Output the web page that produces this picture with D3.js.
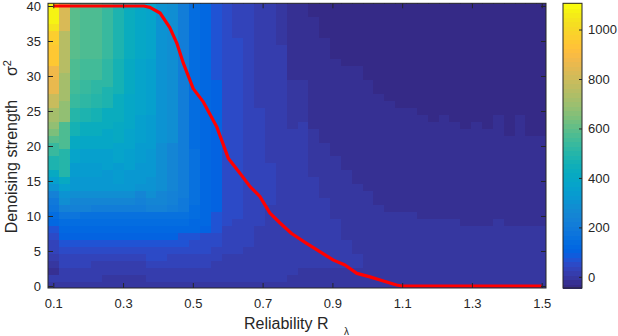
<!DOCTYPE html>
<html>
<head>
<meta charset="utf-8">
<script src="https://cdn.jsdelivr.net/npm/d3@7/dist/d3.min.js"></script>
<style>
  body { margin: 0; background: #fff; }
  svg { display: block; font-family: "Liberation Sans", Arial, sans-serif; }
</style>
</head>
<body>
<svg id="chart" width="618" height="336"></svg>
<script>
// heatmap column centres (reliability R_lambda)
const reliability = [0.1, 0.1311, 0.1622, 0.1933, 0.2244, 0.2556, 0.2867, 0.3178, 0.3489, 0.38,
  0.4111, 0.4422, 0.4733, 0.5044, 0.5356, 0.5667, 0.5978, 0.6289, 0.66, 0.6911,
  0.7222, 0.7533, 0.7844, 0.8156, 0.8467, 0.8778, 0.9089, 0.94, 0.9711, 1.0022,
  1.0333, 1.0644, 1.0956, 1.1267, 1.1578, 1.1889, 1.22, 1.2511, 1.2822, 1.3133,
  1.3444, 1.3756, 1.4067, 1.4378, 1.4689, 1.5];
// heatmap row centres (sigma^2), top to bottom
const sigmaRows = [40, 39, 38, 37, 36, 35, 34, 33, 32, 31, 30, 29, 28, 27, 26, 25, 24, 23, 22, 21,
  20, 19, 18, 17, 16, 15, 14, 13, 12, 11, 10, 9, 8, 7, 6, 5, 4, 3, 2, 1, 0];

// cell values, one run-length string per column (top to bottom)
// token = level char + repeat count, level char k means value 20*k - 40
const levelChars = "0123456789abcdefghijklmnopqrstuvwxyzABCDEFGHIJKLMNOPQRSTUV";
const columnRuns = [
  "U3 S P2 O3 K2 J2 G2 C2 A y w t2 q2 n k h e c b 9 8 6 5 42 3 2 1 3 2",
  "H4 E6 C4 A3 v4 r4 n k h g e b 9 8 7 6 5 42 32 2",
  "w8 v3 u2 t2 r2 p2 n2 l2 j2 i2 g f e b 9 8 7 6 5 42 32 2",
  "v8 u3 t2 s2 q2 o2 m2 k2 j2 i2 g f e a 9 8 7 6 5 42 32 2",
  "v8 u3 s2 r2 p2 o2 m2 k2 j2 i2 g f d a 9 8 7 6 5 4 33 2",
  "t8 s4 q3 o3 m3 k3 i3 g f d a 9 8 7 6 5 4 32 22",
  "q8 p5 o4 n3 l3 j3 i g f d a 9 8 7 6 5 4 32 22",
  "o8 n5 m5 l3 k3 i3 g f d a 9 8 7 6 5 4 32 22",
  "m8 l8 k4 j3 i3 h f e d a 9 8 7 6 5 4 32 22",
  "l8 k8 j5 i4 h2 g f e a 9 8 7 6 52 4 32 2",
  "h20 g7 f2 e a 9 8 7 6 52 4 32 2",
  "g20 f7 e2 d a 9 8 7 6 5 42 32 2",
  "d28 c2 a 9 8 62 5 42 32 2",
  "921 a8 92 82 6 52 42 32 2",
  "832 7 53 42 32 2",
  "611 719 63 52 42 33 2",
  "532 44 34 2",
  "45 526 45 34 2",
  "435 35 2",
  "315 417 38 2",
  "323 46 311 2",
  "26 334 2",
  "111 27 321 22",
  "111 26 321 23",
  "02 116 27 313 23",
  "05 115 28 310 23",
  "08 114 29 37 23",
  "09 115 210 34 23",
  "09 117 210 32 23",
  "011 116 214",
  "013 116 212",
  "014 116 211",
  "015 115 211",
  "015 115 211",
  "016 115 210",
  "017 114 210",
  "016 115 210",
  "017 114 210",
  "018 114 29",
  "017 115 29",
  "018 114 29",
  "016 115 210",
  "019 113 29",
  "016 116 29",
  "019 113 29",
  "019 113 29"
];

// red threshold curve
const curveR = [0.1, 0.36, 0.369, 0.377, 0.406, 0.434, 0.454, 0.473, 0.501, 0.53, 0.568, 0.602,
  0.635, 0.664, 0.692, 0.721, 0.75, 0.783, 0.826, 0.864, 0.903, 0.936, 0.97, 1.008, 1.046,
  1.084, 1.1, 1.5];
const curveSigma = [40, 40, 39.9, 39.8, 39.0, 36.9, 34.7, 31.8, 28.2, 26.3, 22.8, 18.2,
  16.1, 14.2, 12.8, 10.4, 9.0, 7.5, 6.1, 4.9, 3.7, 3.0, 1.8, 1.3, 0.7,
  0.14, 0, 0];

const xTicks = [0.1, 0.3, 0.5, 0.7, 0.9, 1.1, 1.3, 1.5];
const yTicks = [0, 5, 10, 15, 20, 25, 30, 35, 40];
const cbarTicks = [0, 200, 400, 600, 800, 1000];
const colorLimits = [-45, 1106];

const parula = ["#352a87", "#363093", "#3637a0", "#353dad", "#3243ba", "#2c4ac7", "#2053d4", "#0f5cdd",
  "#0363e1", "#0268e1", "#046de0", "#0871de", "#0d75dc", "#1079da", "#127dd8", "#1481d6",
  "#1485d4", "#1389d3", "#108ed2", "#0c93d2", "#0998d1", "#079ccf", "#06a0cd", "#06a4ca",
  "#06a7c6", "#07a9c2", "#0aacbe", "#0faeb9", "#15b1b4", "#1db3af", "#25b5a9", "#2eb7a4",
  "#38b99e", "#42bb98", "#4dbc92", "#59bd8c", "#65be86", "#71bf80", "#7cbf7b", "#87bf77",
  "#92bf73", "#9cbf6f", "#a5be6b", "#aebe67", "#b7bd64", "#c0bc60", "#c8bc5d", "#d1bb59",
  "#d9ba56", "#e1b952", "#e9b94e", "#f1b94a", "#f8bb44", "#fdbe3d", "#ffc337", "#fec832",
  "#fcce2e", "#fad32a", "#f7d826", "#f5de21", "#f5e41d", "#f5eb18", "#f6f313", "#f9fb0e"];

const axisColor = "#262626";
const svg = d3.select("#chart");

const x = d3.scaleLinear().domain([0.0848, 1.5123]).range([48, 546]);
const y = d3.scaleLinear().domain([-0.286, 40.386]).range([288, 3.3]);
const color = d3.scaleQuantize().domain(colorLimits).range(parula);

// decode the run-length columns into cells
function decodeRuns(str) {
  const out = [];
  str.split(" ").forEach(tok => {
    const v = levelChars.indexOf(tok[0]) * 20 - 40;
    const n = tok.length > 1 ? +tok.slice(1) : 1;
    for (let i = 0; i < n; i++) out.push(v);
  });
  return out;
}
const cells = [];
columnRuns.forEach((str, j) => {
  decodeRuns(str).forEach((v, i) => {
    cells.push({ r: reliability[j], s: sigmaRows[i], value: v });
  });
});
const dR = reliability[1] - reliability[0];

svg.append("defs").append("clipPath").attr("id", "plotClip")
  .append("rect").attr("x", 48).attr("y", 3.3).attr("width", 498).attr("height", 284.7);

const plot = svg.append("g").attr("clip-path", "url(#plotClip)");
plot.append("g")
  .attr("shape-rendering", "crispEdges")
  .selectAll("rect")
  .data(cells)
  .enter().append("rect")
  .attr("x", d => Math.round(x(d.r - dR / 2)))
  .attr("y", d => Math.round(y(d.s + 0.5)))
  .attr("width", d => Math.round(x(d.r + dR / 2)) - Math.round(x(d.r - dR / 2)) + 1)
  .attr("height", d => Math.round(y(d.s - 0.5)) - Math.round(y(d.s + 0.5)) + 1)
  .attr("fill", d => color(d.value));

const curve = curveR.map((r, i) => ({ r: r, s: curveSigma[i] }));
plot.append("path")
  .datum(curve)
  .attr("fill", "none")
  .attr("stroke", "#ff0000")
  .attr("stroke-width", 3.2)
  .attr("stroke-linejoin", "round")
  .attr("d", d3.line().x(d => x(d.r)).y(d => y(d.s)));

// axes, ticks pointing inwards on all four sides
function styleAxis(g) {
  g.select(".domain").remove();
  g.selectAll("line").attr("stroke", axisColor);
  g.selectAll("text").attr("fill", axisColor).style("font-size", "13px");
}
svg.append("g").attr("transform", "translate(0,288)")
  .call(d3.axisBottom(x).tickValues(xTicks).tickSize(-5).tickPadding(11).tickFormat(d3.format(".1f")))
  .call(styleAxis);
svg.append("g").attr("transform", "translate(0,3.3)")
  .call(d3.axisTop(x).tickValues(xTicks).tickSize(-5).tickFormat(""))
  .call(styleAxis);
svg.append("g").attr("transform", "translate(48,0)")
  .call(d3.axisLeft(y).tickValues(yTicks).tickSize(-5).tickPadding(7))
  .call(styleAxis);
svg.append("g").attr("transform", "translate(546,0)")
  .call(d3.axisRight(y).tickValues(yTicks).tickSize(-5).tickFormat(""))
  .call(styleAxis);
svg.append("rect")
  .attr("x", 48).attr("y", 3.3).attr("width", 498).attr("height", 284.7)
  .attr("fill", "none").attr("stroke", axisColor).attr("stroke-width", 1);

// axis labels
svg.append("text")
  .attr("x", 244).attr("y", 329)
  .attr("fill", axisColor).style("font-size", "16px")
  .text("Reliability R");
svg.append("text")
  .attr("x", 344).attr("y", 335)
  .attr("fill", axisColor).style("font-size", "10px")
  .text("λ");
svg.append("text")
  .attr("transform", "translate(16.5,166.5) rotate(-90)")
  .attr("text-anchor", "middle")
  .attr("fill", axisColor).style("font-size", "16px")
  .text("Denoising strength");
const sig = svg.append("text")
  .attr("transform", "translate(16.5,76) rotate(-90)")
  .attr("fill", axisColor).style("font-size", "16px");
sig.append("tspan").text("σ");
sig.append("tspan").attr("dy", -6).style("font-size", "11px").text("2");

// colorbar
const cb = d3.scaleLinear().domain(colorLimits).range([288, 3.3]);
const bands = parula.map(c => {
  const ext = color.invertExtent(c);
  return { lo: ext[0], hi: ext[1], c: c };
});
svg.append("g")
  .attr("shape-rendering", "crispEdges")
  .selectAll("rect")
  .data(bands)
  .enter().append("rect")
  .attr("x", 563).attr("width", 19)
  .attr("y", d => cb(d.hi))
  .attr("height", d => cb(d.lo) - cb(d.hi) + 1)
  .attr("fill", d => d.c);
svg.append("g").attr("transform", "translate(582,0)")
  .call(d3.axisRight(cb).tickValues(cbarTicks).tickSize(-3).tickPadding(6).tickFormat(d3.format("d")))
  .call(styleAxis);
svg.append("rect")
  .attr("x", 563).attr("y", 3.3).attr("width", 19).attr("height", 284.7)
  .attr("fill", "none").attr("stroke", axisColor).attr("stroke-width", 1);
</script>
</body>
</html>
